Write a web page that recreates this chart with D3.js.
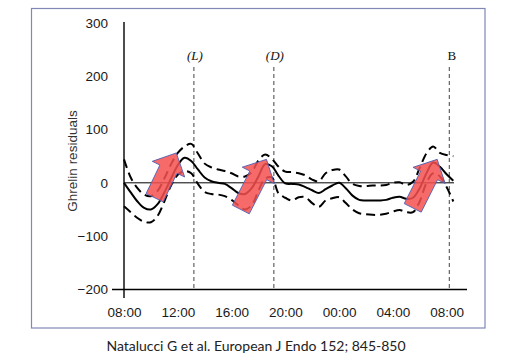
<!DOCTYPE html>
<html>
<head>
<meta charset="utf-8">
<script src="https://cdn.jsdelivr.net/npm/d3@7"></script>
<style>
  html, body { margin: 0; padding: 0; background: #fff; }
  svg { display: block; }
</style>
</head>
<body>
<svg id="chart" width="515" height="364"></svg>
<script>
// ---- data ----
const hours = [0,0.5,1,1.5,2,2.5,3,3.5,4,4.5,5,5.5,6,6.5,7,7.5,8,8.5,9,9.5,10,10.5,11,11.5,12,12.5,13,13.5,14,14.5,15,15.5,16,16.5,17,17.5,18,18.5,19,19.5,20,20.5,21,21.5,22,22.5,23,23.5,24,24.5];
const meanValues = [0,-18,-35,-47,-50,-40,-18,8,33,47,41,25,10,3,0,-2,-10,-19,-21,-10,12,35,31,13,-1,-2,-3,-8,-14,-19,-12,-5,0,-10,-24,-32,-33,-33,-33,-32,-28,-26,-30,-28,-10,18,38,30,16,4];
const upperValues = [44,10,-10,-22,-25,-15,8,35,56,68,73,55,36,29,25,22,18,12,12,20,42,53,45,30,21,20,18,14,6,3,18,24,25,12,-2,-6,-6,-5,-5,-4,0,1,-4,2,28,55,68,56,52,50];
const lowerValues = [-44,-55,-66,-73,-74,-62,-35,-5,15,22,18,-2,-17,-21,-22,-25,-32,-42,-50,-42,-15,8,10,-20,-28,-33,-27,-27,-38,-45,-33,-29,-27,-38,-50,-57,-59,-60,-60,-58,-54,-51,-55,-55,-35,0,18,12,-8,-35];

const xTickHours = [0,4,8,12,16,20,24];
const xTickLabels = ["08:00","12:00","16:00","20:00","00:00","04:00","08:00"];
const yTickValues = [300,200,100,0,-100,-200];

const markerHours = [5.2,11.15,24.2];
const markerLabels = ["(L)","(D)","B"];
const markerItalic = [true,true,false];

const arrowFromHour = [2.28,8.69,21.48];
const arrowFromValue = [-28,-50,-47];
const arrowToHour = [3.89,10.6,23.3];
const arrowToValue = [56,44,44];

const caption = "Natalucci G et al. European J Endo 152; 845-850";

// ---- drawing ----
const svg = d3.select("#chart");
const x = d3.scaleLinear().domain([0,24]).range([124,446.6]);
const y = d3.scaleLinear().domain([-200,300]).range([289.5,22.8]);

// border
svg.append("rect").attr("x",31.5).attr("y",8.5).attr("width",453.5).attr("height",319.5)
  .attr("fill","none").attr("stroke","#8088b8").attr("stroke-width",1.2);

// y axis
const yAxis = d3.axisLeft(y).tickValues(yTickValues).tickSize(0).tickPadding(16)
  .tickFormat(d => d < 0 ? "\u2212" + Math.abs(d) : String(d));
const gy = svg.append("g").attr("transform","translate(124,0)").call(yAxis);
gy.select(".domain").remove();
gy.attr("font-family",null);
gy.selectAll("text").style("font-family","'Liberation Sans', Arial, sans-serif").attr("font-size",13.5).attr("fill","#1a1a1a");

svg.append("line").attr("x1",124).attr("x2",124).attr("y1",22).attr("y2",298)
  .attr("stroke","#000").attr("stroke-width",1.4);

// x axis
const xAxis = d3.axisBottom(x).tickValues(xTickHours).tickSize(0).tickPadding(18)
  .tickFormat((d,i) => xTickLabels[i]);
const gx = svg.append("g").attr("transform","translate(0," + y(-200) + ")").call(xAxis);
gx.select(".domain").remove();
gx.attr("font-family",null);
gx.selectAll("text").style("font-family","'Liberation Sans', Arial, sans-serif").attr("font-size",13.5).attr("fill","#1a1a1a");
svg.append("line").attr("x1",112).attr("x2",467).attr("y1",y(-200)).attr("y2",y(-200))
  .attr("stroke","#000").attr("stroke-width",1.4);

// y title
svg.append("text").attr("transform","translate(77," + 161 + ") rotate(-90)")
  .attr("text-anchor","middle").style("font-family","'Liberation Sans', Arial, sans-serif")
  .attr("font-size",13.5).attr("fill","#333").text("Ghrelin residuals");

// zero line
svg.append("line").attr("x1",x(0)).attr("x2",x(24.55)).attr("y1",y(0)).attr("y2",y(0))
  .attr("stroke","#000").attr("stroke-width",1);

// markers
markerHours.forEach((h,i) => {
  svg.append("line").attr("x1",x(h)).attr("x2",x(h)).attr("y1",67).attr("y2",y(-200))
    .attr("stroke","#444").attr("stroke-width",1).attr("stroke-dasharray","4,3");
  svg.append("text").attr("x",x(h) + (markerItalic[i] ? 1 : 2.5)).attr("y",60).attr("text-anchor","middle")
    .style("font-family","'Liberation Serif', 'Times New Roman', serif")
    .attr("font-style",markerItalic[i] ? "italic" : "normal")
    .attr("font-size",13).attr("fill","#111").text(markerLabels[i]);
});

// curves
const line = d3.line().x((d,i) => x(hours[i])).y(d => y(d)).curve(d3.curveCatmullRom.alpha(0.5));
svg.append("path").attr("d",line(upperValues)).attr("fill","none").attr("stroke","#000")
  .attr("stroke-width",2).attr("stroke-dasharray","9,5");
svg.append("path").attr("d",line(lowerValues)).attr("fill","none").attr("stroke","#000")
  .attr("stroke-width",2).attr("stroke-dasharray","9,5");
svg.append("path").attr("d",line(meanValues)).attr("fill","none").attr("stroke","#000")
  .attr("stroke-width",2);

// arrows
const headLen = 18, shaftHalf = 9.5, headHalf = 18;
arrowFromHour.forEach((h,i) => {
  const x0 = x(h), y0 = y(arrowFromValue[i]);
  const x1 = x(arrowToHour[i]), y1 = y(arrowToValue[i]);
  const len = Math.hypot(x1-x0, y1-y0);
  const ang = Math.atan2(x1-x0, -(y1-y0)) * 180 / Math.PI;
  const pts = [[-shaftHalf,0],[-shaftHalf,-(len-headLen)],[-headHalf,-(len-headLen)],[0,-len],
               [headHalf,-(len-headLen)],[shaftHalf,-(len-headLen)],[shaftHalf,0]];
  svg.append("polygon").attr("points",pts.map(p => p.join(",")).join(" "))
    .attr("transform","translate(" + x0 + "," + y0 + ") rotate(" + ang + ")")
    .attr("fill","rgb(244,80,80)").attr("fill-opacity",0.85)
    .attr("stroke","#4a5fb5").attr("stroke-width",0.8);
});

// caption
svg.append("text").attr("x",256).attr("y",351).attr("text-anchor","middle")
  .style("font-family","Lato, 'Open Sans', sans-serif").attr("font-size",14).attr("fill","#222")
  .text(caption);
</script>
</body>
</html>
